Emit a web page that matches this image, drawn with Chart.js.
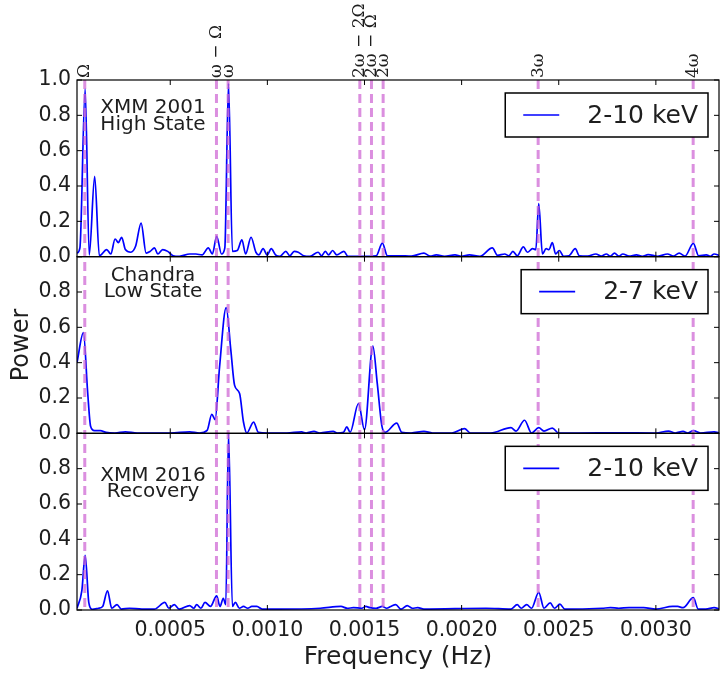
<!DOCTYPE html>
<html>
<head>
<meta charset="utf-8">
<script src="https://cdn.jsdelivr.net/npm/chart.js@4.4.1/dist/chart.umd.min.js"></script>
<style>
  html, body { margin: 0; padding: 0; background: #fff; }
  #chart { display: block; }
</style>
</head>
<body>
<canvas id="chart" width="720" height="675"></canvas>
<script>
// ── Data ────────────────────────────────────────────────────────
const freqHigh2001 = [
  0.000020, 0.000035, 0.000062, 0.000083, 0.000111, 0.000135, 0.000173, 0.000194, 0.000216, 0.000233,
  0.000250, 0.000269, 0.000297, 0.000322, 0.000350, 0.000376, 0.000397, 0.000419, 0.000436, 0.000461,
  0.000487, 0.000515, 0.000547, 0.000600, 0.000632, 0.000664, 0.000696, 0.000717, 0.000739, 0.000764,
  0.000781, 0.000800, 0.000820, 0.000845, 0.000869, 0.000888, 0.000916, 0.000941, 0.000956, 0.000978,
  0.000999, 0.001020, 0.001042, 0.001065, 0.001095, 0.001116, 0.001138, 0.001159, 0.001187, 0.001219,
  0.001261, 0.001279, 0.001298, 0.001315, 0.001336, 0.001357, 0.001394, 0.001415, 0.001485, 0.001560,
  0.001592, 0.001618, 0.001678, 0.001742, 0.001806, 0.001838, 0.001870, 0.001912, 0.001966, 0.001998,
  0.002040, 0.002094, 0.002158, 0.002185, 0.002222, 0.002243, 0.002264, 0.002286, 0.002318, 0.002339,
  0.002365, 0.002382, 0.002397, 0.002416, 0.002435, 0.002450, 0.002467, 0.002484, 0.002503, 0.002525,
  0.002553, 0.002585, 0.002606, 0.002649, 0.002691, 0.002719, 0.002745, 0.002766, 0.002787, 0.002809,
  0.002830, 0.002862, 0.002900, 0.002930, 0.002960, 0.003010, 0.003060, 0.003090, 0.003120, 0.003150,
  0.003193, 0.003220, 0.003260, 0.003280, 0.003300, 0.003330
];
const powerHigh2001 = [
  0.02, 0.05, 0.95, 0.01, 0.455, 0.005, 0.04, 0.015, 0.10, 0.08,
  0.11, 0.04, 0.025, 0.06, 0.19, 0.02, 0.03, 0.05, 0.015, 0.04,
  0.03, 0.005, 0.002, 0.015, 0.015, 0.01, 0.05, 0.015, 0.115, 0.015,
  0.05, 0.98, 0.03, 0.035, 0.095, 0.015, 0.11, 0.025, 0.01, 0.045,
  0.01, 0.045, 0.01, 0.002, 0.03, 0.005, 0.03, 0.025, 0.005, 0.002,
  0.025, 0.005, 0.03, 0.01, 0.035, 0.01, 0.03, 0.002, 0.002, 0.005,
  0.077, 0.005, 0.005, 0.003, 0.02, 0.003, 0.01, 0.002, 0.01, 0.002,
  0.01, 0.002, 0.05, 0.008, 0.015, 0.005, 0.03, 0.005, 0.055, 0.025,
  0.045, 0.04, 0.30, 0.015, 0.045, 0.04, 0.08, 0.015, 0.035, 0.002,
  0.005, 0.045, 0.005, 0.003, 0.015, 0.003, 0.015, 0.003, 0.02, 0.003,
  0.015, 0.003, 0.01, 0.002, 0.012, 0.002, 0.015, 0.003, 0.02, 0.003,
  0.075, 0.005, 0.01, 0.002, 0.015, 0.005
];

const freqLow = [
  0.000020, 0.000053, 0.000075, 0.000090, 0.000110, 0.000140, 0.000170, 0.000215, 0.000269, 0.000330,
  0.000420, 0.000500, 0.000600, 0.000650, 0.000690, 0.000714, 0.000731, 0.000754, 0.000788, 0.000812,
  0.000831, 0.000857, 0.000877, 0.000894, 0.000929, 0.000954, 0.001000, 0.001100, 0.001176, 0.001200,
  0.001240, 0.001270, 0.001339, 0.001360, 0.001392, 0.001409, 0.001426, 0.001469, 0.001500, 0.001543,
  0.001566, 0.001589, 0.001606, 0.001666, 0.001692, 0.001740, 0.001806, 0.001850, 0.001950, 0.002015,
  0.002045, 0.002150, 0.002254, 0.002280, 0.002324, 0.002360, 0.002397, 0.002424, 0.002467, 0.002499,
  0.002600, 0.002800, 0.003000, 0.003065, 0.003100, 0.003140, 0.003165, 0.003193, 0.003230, 0.003300,
  0.003330
];
const powerLow = [
  0.40, 0.57, 0.23, 0.04, 0.015, 0.015, 0.005, 0.002, 0.008, 0.002,
  0.002, 0.002, 0.008, 0.002, 0.017, 0.108, 0.078, 0.377, 0.712, 0.47,
  0.273, 0.225, 0.064, 0.002, 0.064, 0.005, 0.002, 0.002, 0.008, 0.002,
  0.011, 0.002, 0.011, 0.002, 0.006, 0.036, 0.006, 0.169, 0.02, 0.494,
  0.28, 0.045, 0.006, 0.058, 0.006, 0.002, 0.011, 0.002, 0.002, 0.027,
  0.002, 0.002, 0.032, 0.013, 0.074, 0.002, 0.032, 0.013, 0.03, 0.002,
  0.002, 0.003, 0.002, 0.013, 0.002, 0.011, 0.002, 0.015, 0.002, 0.008,
  0.002
];

const freqRecovery = [
  0.000020, 0.000045, 0.000062, 0.000081, 0.000098, 0.000130, 0.000152, 0.000177, 0.000199, 0.000226,
  0.000248, 0.000290, 0.000354, 0.000419, 0.000472, 0.000493, 0.000521, 0.000547, 0.000600, 0.000621,
  0.000636, 0.000658, 0.000679, 0.000707, 0.000739, 0.000756, 0.000773, 0.000786, 0.000800, 0.000820,
  0.000835, 0.000856, 0.000877, 0.000899, 0.000920, 0.000946, 0.000973, 0.001059, 0.001272, 0.001379,
  0.001411, 0.001443, 0.001486, 0.001507, 0.001528, 0.001560, 0.001592, 0.001614, 0.001635, 0.001661,
  0.001688, 0.001720, 0.001746, 0.001774, 0.001806, 0.002126, 0.002254, 0.002286, 0.002307, 0.002335,
  0.002360, 0.002397, 0.002424, 0.002456, 0.002478, 0.002506, 0.002531, 0.002723, 0.002766, 0.002809,
  0.002862, 0.002937, 0.003000, 0.003086, 0.003112, 0.003140, 0.003193, 0.003218, 0.003257, 0.003300,
  0.003330
];
const powerRecovery = [
  0.01, 0.11, 0.31, 0.04, 0.004, 0.01, 0.02, 0.109, 0.01, 0.03,
  0.005, 0.01, 0.005, 0.005, 0.043, 0.01, 0.03, 0.005, 0.025, 0.01,
  0.03, 0.01, 0.043, 0.02, 0.08, 0.02, 0.066, 0.03, 1.0, 0.02,
  0.043, 0.01, 0.02, 0.01, 0.02, 0.02, 0.005, 0.005, 0.01, 0.02,
  0.01, 0.013, 0.01, 0.02, 0.013, 0.01, 0.02, 0.01, 0.02, 0.03,
  0.005, 0.025, 0.01, 0.013, 0.005, 0.01, 0.005, 0.03, 0.01, 0.03,
  0.01, 0.10, 0.01, 0.04, 0.01, 0.033, 0.005, 0.01, 0.013, 0.01,
  0.013, 0.013, 0.005, 0.02, 0.02, 0.013, 0.07, 0.005, 0.005, 0.013,
  0.005
];

// Orbital (Omega) and spin (omega) frequencies and their combinations
const markerFreqs  = [0.00006, 0.000738, 0.000798, 0.001476, 0.001536, 0.001596, 0.002394, 0.003192];
const markerLabels = ['Ω', 'ω − Ω', 'ω', '2ω − 2Ω', '2ω − Ω', '2ω', '3ω', '4ω'];

const xTickValues = [0.0005, 0.0010, 0.0015, 0.0020, 0.0025, 0.0030];
const yTickValues = [0.0, 0.2, 0.4, 0.6, 0.8, 1.0];

// ── Panels ──────────────────────────────────────────────────────
const panels = [
  { axis: 'yHigh', legend: '2-10 keV', notes: ['XMM 2001', 'High State'], noteY: [33, 50] },
  { axis: 'yLow',  legend: '2-7 keV',  notes: ['Chandra', 'Low State'],   noteY: [24, 40] },
  { axis: 'yRec',  legend: '2-10 keV', notes: ['XMM 2016', 'Recovery'],   noteY: [48, 64] },
];

const BLUE = '#0000ff';
const TEXT = '#1e1e1e';
const FONT = '"DejaVu Sans", sans-serif';

function toPoints(xs, ys) {
  return xs.map((x, i) => ({ x: x, y: ys[i] }));
}

function lineSet(xs, ys, axis) {
  return {
    data: toPoints(xs, ys),
    yAxisID: axis,
    borderColor: BLUE,
    borderWidth: 1.7,
    pointRadius: 0,
    fill: false,
    cubicInterpolationMode: 'monotone',
  };
}

function yAxis(weight, hideTop) {
  return {
    type: 'linear',
    position: 'left',
    stack: 'panels',
    stackWeight: 1,
    weight: weight,
    min: 0,
    max: 1,
    grid: { display: false, drawTicks: false },
    border: { display: false },
    afterBuildTicks: s => { s.ticks = yTickValues.map(v => ({ value: v })); },
    afterFit: s => { s.width = 77; },
    ticks: {
      autoSkip: false,
      padding: 6,
      color: TEXT,
      font: { family: FONT, size: 20.5 },
      callback: v => (hideTop && v >= 1) ? '' : v.toFixed(1),
    },
  };
}

// ── Overlay: frames, inward ticks, marker lines, legends, texts ──
const overlay = {
  id: 'overlay',
  afterDatasetsDraw(chart) {
    const ctx = chart.ctx;
    const xs = chart.scales.x;
    const area = chart.chartArea;

    // dashed harmonic lines
    ctx.save();
    ctx.strokeStyle = 'rgba(205, 100, 210, 0.72)';
    ctx.lineWidth = 3;
    ctx.setLineDash([9, 5]);
    markerFreqs.forEach(f => {
      const px = xs.getPixelForValue(f);
      ctx.beginPath();
      ctx.moveTo(px, area.top);
      ctx.lineTo(px, area.bottom);
      ctx.stroke();
    });
    ctx.restore();

    panels.forEach(p => {
      const ys = chart.scales[p.axis];
      const top = ys.top, bottom = ys.bottom;

      // frame
      ctx.save();
      ctx.strokeStyle = '#000';
      ctx.lineWidth = 1.2;
      ctx.strokeRect(area.left, top, area.right - area.left, bottom - top);

      // inward ticks
      ctx.lineWidth = 1;
      ctx.beginPath();
      yTickValues.forEach(v => {
        const py = ys.getPixelForValue(v);
        ctx.moveTo(area.left, py);  ctx.lineTo(area.left + 5, py);
        ctx.moveTo(area.right, py); ctx.lineTo(area.right - 5, py);
      });
      xTickValues.forEach(v => {
        const px = xs.getPixelForValue(v);
        ctx.moveTo(px, bottom); ctx.lineTo(px, bottom - 5);
        ctx.moveTo(px, top);    ctx.lineTo(px, top + 5);
      });
      ctx.stroke();

      // legend
      ctx.font = '25px ' + FONT;
      const tw = ctx.measureText(p.legend).width;
      const bw = tw + 92, bh = 44;
      const bx = area.right - 11 - bw, by = top + 13;
      ctx.fillStyle = '#fff';
      ctx.fillRect(bx, by, bw, bh);
      ctx.lineWidth = 1.5;
      ctx.strokeStyle = '#000';
      ctx.strokeRect(bx, by, bw, bh);
      ctx.strokeStyle = BLUE;
      ctx.lineWidth = 1.6;
      ctx.beginPath();
      ctx.moveTo(bx + 18, by + bh / 2);
      ctx.lineTo(bx + 54, by + bh / 2);
      ctx.stroke();
      ctx.fillStyle = TEXT;
      ctx.textBaseline = 'middle';
      ctx.textAlign = 'left';
      ctx.fillText(p.legend, bx + 82, by + bh / 2 + 1);

      // panel annotation
      ctx.font = '20px ' + FONT;
      ctx.textAlign = 'center';
      ctx.textBaseline = 'alphabetic';
      p.notes.forEach((t, i) => ctx.fillText(t, area.left + 76, top + p.noteY[i]));
      ctx.restore();
    });

    // marker labels above the top panel
    ctx.save();
    ctx.fillStyle = TEXT;
    ctx.font = '17px "DejaVu Serif", serif';
    ctx.textAlign = 'left';
    ctx.textBaseline = 'middle';
    markerFreqs.forEach((f, i) => {
      ctx.save();
      ctx.translate(xs.getPixelForValue(f), area.top - 2);
      ctx.rotate(-Math.PI / 2);
      ctx.fillText(markerLabels[i], 0, 0);
      ctx.restore();
    });

    // axis titles
    ctx.font = '25px ' + FONT;
    ctx.textAlign = 'center';
    ctx.textBaseline = 'middle';
    ctx.fillText('Frequency (Hz)', (area.left + area.right) / 2, 657);
    ctx.translate(22, (area.top + area.bottom) / 2);
    ctx.rotate(-Math.PI / 2);
    ctx.font = '24px ' + FONT;
    ctx.fillText('Power', 0, 0);
    ctx.restore();
  },
};

// ── Chart ───────────────────────────────────────────────────────
new Chart(document.getElementById('chart').getContext('2d'), {
  type: 'line',
  data: {
    datasets: [
      lineSet(freqHigh2001, powerHigh2001, 'yHigh'),
      lineSet(freqLow, powerLow, 'yLow'),
      lineSet(freqRecovery, powerRecovery, 'yRec'),
    ],
  },
  options: {
    responsive: false,
    animation: false,
    devicePixelRatio: 1,
    layout: { padding: { top: 80, right: 1, left: 0, bottom: 0 } },
    plugins: { legend: { display: false }, tooltip: { enabled: false } },
    scales: {
      x: {
        type: 'linear',
        min: 0.00002,
        max: 0.003325,
        grid: { display: false, drawTicks: false },
        border: { display: false },
        afterBuildTicks: s => { s.ticks = xTickValues.map(v => ({ value: v })); },
        afterFit: s => { s.height = 65; },
        ticks: {
          autoSkip: false,
          padding: 8,
          color: TEXT,
          maxRotation: 0,
          font: { family: FONT, size: 20.5 },
          callback: v => v.toFixed(4),
        },
      },
      yHigh: yAxis(3, false),
      yLow:  yAxis(2, true),
      yRec:  yAxis(1, true),
    },
  },
  plugins: [overlay],
});
</script>
</body>
</html>
